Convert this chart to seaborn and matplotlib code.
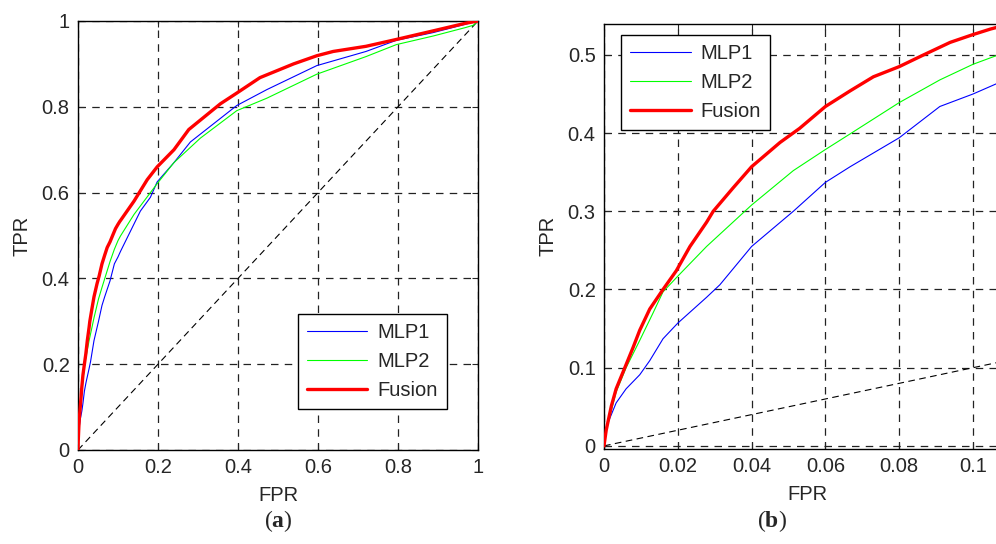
import numpy as np
import pandas as pd
import matplotlib
matplotlib.use("Agg")
import matplotlib.pyplot as plt
from matplotlib.ticker import FuncFormatter
import seaborn as sns

# ROC curves (dense near 0 from panel b, coarse beyond from panel a)
fpr_mlp1 = [0, 0.0006, 0.0033, 0.006, 0.0097, 0.0124, 0.016, 0.02, 0.0278, 0.0314, 0.04,
            0.0513, 0.06, 0.0667, 0.08, 0.091, 0.1, 0.1063, 0.156, 0.181, 0.198, 0.24,
            0.281, 0.397, 0.472, 0.597, 0.72, 0.796, 0.888, 1.0]
tpr_mlp1 = [0, 0.024, 0.055, 0.073, 0.091, 0.109, 0.137, 0.157, 0.19, 0.206, 0.255,
            0.30, 0.337, 0.357, 0.394, 0.434, 0.45, 0.463, 0.557, 0.589, 0.625, 0.67,
            0.718, 0.803, 0.84, 0.896, 0.929, 0.955, 0.973, 1.0]

fpr_mlp2 = [0, 0.0006, 0.0033, 0.006, 0.0097, 0.0133, 0.016, 0.02, 0.0278, 0.04, 0.0513,
            0.06, 0.0667, 0.08, 0.091, 0.1, 0.1063, 0.14, 0.198, 0.24, 0.306, 0.397,
            0.472, 0.597, 0.72, 0.796, 0.888, 0.97, 0.988, 1.0]
tpr_mlp2 = [0, 0.02, 0.069, 0.10, 0.135, 0.17, 0.197, 0.217, 0.255, 0.308, 0.352,
            0.379, 0.399, 0.439, 0.468, 0.488, 0.499, 0.549, 0.621, 0.67, 0.727, 0.791,
            0.82, 0.876, 0.917, 0.945, 0.965, 0.985, 0.99, 1.0]

fpr_fusion = [0, 0.0006, 0.002, 0.0033, 0.006, 0.0079, 0.0097, 0.0124, 0.016, 0.0196,
              0.0233, 0.0278, 0.0296, 0.035, 0.04, 0.0477, 0.053, 0.06, 0.0667, 0.073,
              0.08, 0.0866, 0.0938, 0.1, 0.1047, 0.1063, 0.14, 0.173, 0.198, 0.24, 0.277,
              0.356, 0.397, 0.455, 0.539, 0.597, 0.638, 0.72, 0.796, 0.888, 0.97, 1.0]
tpr_fusion = [0, 0.02, 0.051, 0.073, 0.104, 0.126, 0.148, 0.175, 0.2, 0.224,
              0.255, 0.286, 0.30, 0.33, 0.357, 0.388, 0.406, 0.434, 0.454, 0.472,
              0.485, 0.50, 0.516, 0.526, 0.533, 0.535, 0.58, 0.63, 0.66, 0.70, 0.747,
              0.807, 0.832, 0.868, 0.90, 0.919, 0.929, 0.941, 0.957, 0.977, 0.995, 1.0]

chance = [0, 1]

series = [("MLP1", fpr_mlp1, tpr_mlp1, "#0000ff", 0.8),
          ("MLP2", fpr_mlp2, tpr_mlp2, "#00ff00", 0.8),
          ("Fusion", fpr_fusion, tpr_fusion, "#ff0000", 2.4)]

sns.set_style("ticks")
plt.rcParams["font.family"] = ["Liberation Sans", "DejaVu Sans"]
plt.rcParams["mathtext.fontset"] = "custom"
plt.rcParams["mathtext.rm"] = "Liberation Serif"
plt.rcParams["mathtext.bf"] = "Liberation Serif:bold"

fig = plt.figure(figsize=(9.96, 5.44), dpi=100)
ax_a = fig.add_axes([0.0783, 0.1728, 0.4016, 0.7886])
ax_b = fig.add_axes([0.6064, 0.1746, 0.4076, 0.782])

fmt = FuncFormatter(lambda v, p: "%g" % round(v, 4))
fs = 14.5


def draw(ax, xlim, ylim, xticks, yticks, legend_loc, legend_anchor):
    for name, x, y, c, lw in series:
        df = pd.DataFrame({"FPR": x, "TPR": y})
        sns.lineplot(data=df, x="FPR", y="TPR", ax=ax, color=c, lw=lw,
                     label=name, sort=False, estimator=None, zorder=3)
    ax.plot(chance, chance, color="black", lw=0.8, ls=(0, (6, 4)), zorder=2)
    ax.set_xlim(*xlim)
    ax.set_ylim(*ylim)
    ax.set_xticks(xticks)
    ax.set_yticks(yticks)
    ax.xaxis.set_major_formatter(fmt)
    ax.yaxis.set_major_formatter(fmt)
    ax.grid(True, color="#222222", ls=(0, (6, 5)), lw=0.9)
    ax.tick_params(direction="in", top=True, right=True, labelsize=fs,
                   length=4, width=0.8, pad=6)
    for s in ax.spines.values():
        s.set_linewidth(1.0)
        s.set_color("black")
    ax.set_xlabel("FPR", fontsize=fs, labelpad=6)
    ax.set_ylabel("TPR", fontsize=fs, labelpad=7)
    leg = ax.legend(loc=legend_loc, bbox_to_anchor=legend_anchor, fontsize=fs,
                    fancybox=False, framealpha=1, edgecolor="black",
                    handlelength=3.0, borderpad=0.45, labelspacing=0.5,
                    handletextpad=0.5, borderaxespad=0)
    leg.get_frame().set_linewidth(1.0)


draw(ax_a, (0, 1), (0, 1), np.arange(0, 1.01, 0.2), np.arange(0, 1.01, 0.2),
     "lower right", (0.9225, 0.0956))
draw(ax_b, (0, 0.11), (-0.004, 0.54), np.arange(0, 0.101, 0.02), np.arange(0, 0.51, 0.1),
     "upper left", (0.042, 0.974))

fig.text(0.2795, 0.042, r"($\mathbf{a}$)", ha="center", va="center", fontsize=17,
         family="Liberation Serif")
fig.text(0.7751, 0.042, r"($\mathbf{b}$)", ha="center", va="center", fontsize=17,
         family="Liberation Serif")

fig.savefig("out.png", dpi=100)
